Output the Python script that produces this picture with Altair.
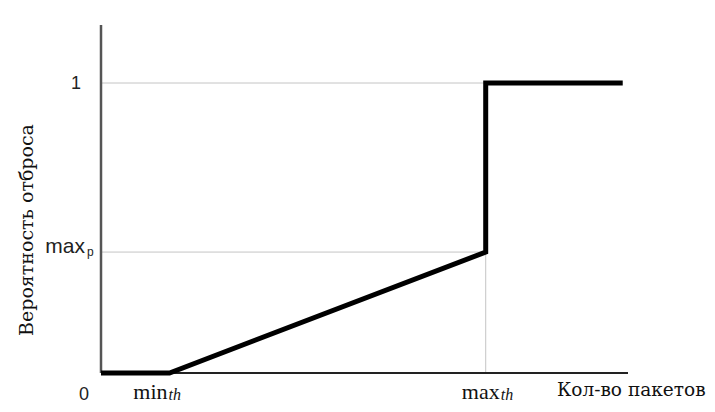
import altair as alt
import pandas as pd

# ---- data ----
curve_x = [0, 13, 73, 73, 99]
curve_y = [0, 0, 0.417, 1, 1]
min_th = 13
max_th = 73
max_p = 0.417
x_end = 100
y_top = 1.2

X = alt.Scale(domain=[0, x_end])
Y = alt.Scale(domain=[0, y_top])

curve_df = pd.DataFrame({"x": curve_x, "y": curve_y, "o": list(range(len(curve_x)))})

grid_h = pd.DataFrame({"x": [0, 0], "x2": [max_th, max_th], "y": [1, max_p]})
grid_v = pd.DataFrame({"x": [max_th], "y": [0], "y2": [max_p]})
yaxis_df = pd.DataFrame({"x": [0], "y": [0], "y2": [y_top]})
xaxis_df = pd.DataFrame({"x": [0], "x2": [x_end], "y": [0]})

gh = alt.Chart(grid_h).mark_rule(color="#c4c4c4", strokeWidth=1).encode(
    x=alt.X("x:Q", scale=X, axis=None), x2="x2:Q",
    y=alt.Y("y:Q", scale=Y, axis=None))
gv = alt.Chart(grid_v).mark_rule(color="#c4c4c4", strokeWidth=1).encode(
    x=alt.X("x:Q", scale=X, axis=None),
    y=alt.Y("y:Q", scale=Y, axis=None), y2="y2:Q")
ya = alt.Chart(yaxis_df).mark_rule(color="#555555", strokeWidth=2.5).encode(
    x=alt.X("x:Q", scale=X, axis=None),
    y=alt.Y("y:Q", scale=Y, axis=None), y2="y2:Q")
xa = alt.Chart(xaxis_df).mark_rule(color="#222222", strokeWidth=2).encode(
    x=alt.X("x:Q", scale=X, axis=None), x2="x2:Q",
    y=alt.Y("y:Q", scale=Y, axis=None))

curve = alt.Chart(curve_df).mark_line(color="black", strokeWidth=5,
                                      strokeJoin="miter", strokeCap="butt").encode(
    x=alt.X("x:Q", scale=X, axis=None),
    y=alt.Y("y:Q", scale=Y, axis=None),
    order="o:Q")


def label(text, xv, yv, font, size, align, dx, dy, baseline="alphabetic",
          style="normal", angle=0, color="#111111"):
    df = pd.DataFrame({"x": [xv], "y": [yv], "t": [text]})
    return alt.Chart(df).mark_text(font=font, fontSize=size, align=align,
                                   baseline=baseline, dx=dx, dy=dy,
                                   fontStyle=style, angle=angle,
                                   color=color).encode(
        x=alt.X("x:Q", scale=X, axis=None),
        y=alt.Y("y:Q", scale=Y, axis=None),
        text="t:N")


SANS = "Liberation Sans, Arial, sans-serif"
SERIF = "Liberation Serif, Times New Roman, serif"
CYR_SERIF = "DejaVu Serif"

labels = [
    label("1", 0, 1, SANS, 18, "right", -20, 1, baseline="middle", color="#222222"),
    label("max", 0, max_p, SANS, 21, "right", -16, 1, color="#222222"),
    label("p", 0, max_p, SANS, 12, "left", -14, 4, color="#222222"),
    label("0", 0, 0, SANS, 18, "center", -17, 22, baseline="middle", color="#222222"),
    label("min", min_th, 0, SERIF, 22, "right", -2, 26),
    label("th", min_th, 0, SERIF, 16, "left", -1, 27, style="italic"),
    label("max", max_th, 0, SERIF, 22, "right", 14, 26),
    label("th", max_th, 0, SERIF, 16, "left", 15, 27, style="italic"),
    label("Кол-во пакетов", x_end, 0, CYR_SERIF, 18.5, "left", -71, 23),
    label("Вероятность отброса", 0, 0.493, CYR_SERIF, 19, "center", 0, -74,
          baseline="middle", angle=270),
]

chart = alt.layer(gh, gv, ya, xa, curve, *labels).properties(
    width=527, height=348,
    autosize="none",
    padding={"left": 93, "top": 17, "right": 79, "bottom": 31},
    background="white",
).configure_view(stroke=None)

chart.save("out.html", embed_options={"renderer": "svg", "actions": False})
